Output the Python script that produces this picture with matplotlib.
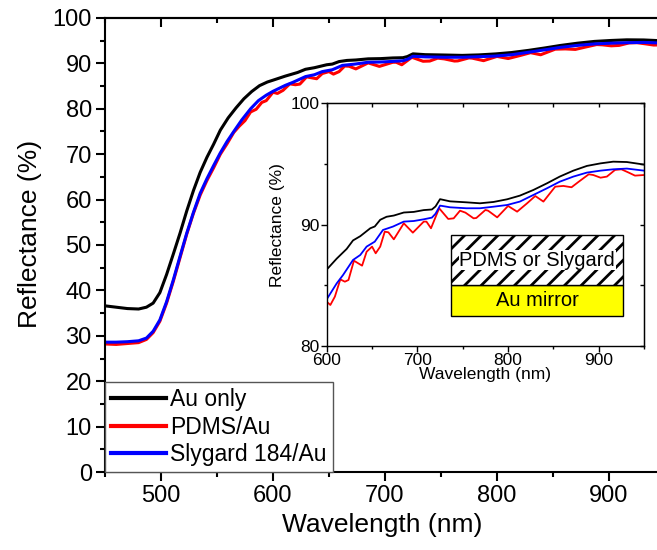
import numpy as np
import matplotlib
matplotlib.use("Agg")
import matplotlib.pyplot as plt
from matplotlib.patches import Rectangle
from matplotlib.ticker import MultipleLocator

plt.rcParams['font.family'] = ['Liberation Sans', 'DejaVu Sans']
plt.rcParams['hatch.linewidth'] = 2.0

# Au only (black)
wl_au = [450, 460, 470, 480, 487, 493, 499, 505, 511, 517, 523, 529, 535, 541, 547,
         553, 560, 567, 574, 581, 588, 595, 600, 611, 622, 629, 637, 648, 653, 659,
         666, 674, 685, 696, 707, 716, 720, 725, 736, 754, 769, 784, 799, 813, 828,
         843, 857, 872, 887, 902, 916, 931, 950]
r_au = [36.6, 36.3, 36.0, 35.9, 36.3, 37.2, 39.5, 43.5, 48.0, 52.6, 57.5, 62.0, 66.0, 69.3, 72.2,
        75.3, 78.0, 80.2, 82.2, 83.8, 85.1, 85.9, 86.3, 87.2, 88.0, 88.7, 89.05, 89.7, 89.85, 90.4,
        90.65, 90.75, 91.0, 91.05, 91.2, 91.25, 91.5, 92.1, 91.92, 91.84, 91.76, 91.87, 92.09, 92.39, 92.86,
        93.41, 93.96, 94.45, 94.84, 95.05, 95.19, 95.16, 94.95]

# Slygard 184/Au (blue)
wl_sly = [450, 460, 470, 480, 487, 493, 499, 505, 511, 517, 523, 529, 535, 541, 547,
          553, 559, 565, 572, 580, 587, 594, 600, 611, 618, 629, 637, 644, 653, 662,
          673, 685, 696, 707, 716, 720, 725, 736, 754, 769, 784, 799, 813, 828, 843,
          857, 872, 887, 902, 916, 931, 950]
r_sly = [28.6, 28.6, 28.7, 28.9, 29.5, 31.0, 33.5, 37.5, 42.3, 47.5, 52.6, 57.2, 61.4, 64.6, 67.5,
         70.3, 72.8, 75.0, 77.5, 80.0, 81.8, 83.0, 83.85, 85.16, 85.85, 87.09, 87.5, 88.19, 88.6, 89.56,
         89.84, 90.25, 90.3, 90.44, 90.58, 90.9, 91.57, 91.43, 91.35, 91.35, 91.48, 91.62, 91.9, 92.45, 93.0,
         93.54, 93.96, 94.29, 94.45, 94.56, 94.62, 94.45]

# PDMS/Au (red)
wl_pdms = [450, 460, 470, 480, 487, 493, 499, 505, 511, 517, 523, 529, 535, 541, 547,
           553, 559, 565, 570, 575, 580, 585, 590, 594, 600, 604, 609, 615, 620, 624,
           630, 639, 644, 650, 654, 659, 664, 668, 674, 685, 695, 707, 710, 715, 724,
           734, 740, 747, 753, 762, 765, 775, 778, 788, 800, 810, 821, 830, 839, 852,
           861, 870, 878, 889, 894, 902, 909, 918, 925, 933, 940, 950]
r_pdms = [28.2, 28.1, 28.3, 28.5, 29.2, 30.7, 33.2, 37.2, 42.0, 47.2, 52.4, 57.0, 61.0, 64.2, 67.0,
          70.0, 72.3, 74.8, 76.2, 77.4, 79.3, 79.9, 81.4, 81.8, 83.65, 83.38, 84.07, 85.49, 85.3, 85.44,
          87.03, 86.62, 87.77, 88.19, 87.64, 88.19, 89.42, 89.37, 88.79, 90.11, 89.34, 90.25, 90.25, 89.7, 91.35,
          90.47, 90.52, 91.15, 90.99, 90.52, 90.55, 91.21, 91.15, 90.6, 91.54, 91.07, 91.76, 92.36, 91.9, 93.13,
          93.19, 93.08, 93.54, 94.15, 94.09, 93.87, 93.96, 94.51, 94.56, 94.29, 94.04, 94.09]

labels = ["Au only", "PDMS/Au", "Slygard 184/Au"]
colors = ["black", "#ff0000", "#0000ff"]

fig = plt.figure(figsize=(6.57, 5.5), dpi=100)
ax = fig.add_axes([0.1598, 0.1418, 0.8438, 0.8255])

ax.plot(wl_au, r_au, color=colors[0], lw=2.2, label=labels[0])
ax.plot(wl_pdms, r_pdms, color=colors[1], lw=2.2, label=labels[1])
ax.plot(wl_sly, r_sly, color=colors[2], lw=2.2, label=labels[2])

ax.set_xlim(450, 945)
ax.set_ylim(0, 100)
ax.xaxis.set_major_locator(MultipleLocator(100))
ax.xaxis.set_minor_locator(MultipleLocator(50))
ax.yaxis.set_major_locator(MultipleLocator(10))
ax.yaxis.set_minor_locator(MultipleLocator(5))
for s in ax.spines.values():
    s.set_linewidth(1.5)
ax.spines['right'].set_visible(False)
ax.tick_params(which='major', direction='out', length=6.5, width=1.5, labelsize=17, pad=3)
ax.tick_params(which='minor', direction='out', length=3.8, width=1.5)
top = ax.secondary_xaxis('top')
top.xaxis.set_major_locator(MultipleLocator(100))
top.xaxis.set_minor_locator(MultipleLocator(50))
top.tick_params(which='major', direction='in', length=6.5, width=1.5, labeltop=False)
top.tick_params(which='minor', direction='in', length=3.8, width=1.5)
top.spines['top'].set_linewidth(1.5)
ax.set_xlabel("Wavelength (nm)", fontsize=19, labelpad=4)
ax.set_ylabel("Reflectance (%)", fontsize=19)
ax.yaxis.set_label_coords(-0.113, 0.525)

leg = ax.legend(loc='lower left', bbox_to_anchor=(0, 0), borderaxespad=0, fontsize=16.5,
                fancybox=False, edgecolor='#555555', framealpha=1, handlelength=2.4,
                handletextpad=0.2, labelspacing=0.2, borderpad=0.25)
leg.get_frame().set_linewidth(1.0)
for h in leg.get_lines():
    h.set_linewidth(3)

# inset
ins = fig.add_axes([0.4973, 0.3709, 0.483, 0.4413])
ins.plot(wl_au, r_au, color=colors[0], lw=1.3)
ins.plot(wl_pdms, r_pdms, color=colors[1], lw=1.3)
ins.plot(wl_sly, r_sly, color=colors[2], lw=1.3)
ins.set_xlim(600, 950)
ins.set_ylim(80, 100)
ins.xaxis.set_major_locator(MultipleLocator(100))
ins.xaxis.set_minor_locator(MultipleLocator(50))
ins.yaxis.set_major_locator(MultipleLocator(10))
ins.yaxis.set_minor_locator(MultipleLocator(5))
for s in ins.spines.values():
    s.set_linewidth(1.0)
ins.tick_params(which='major', direction='out', length=4, width=1.0, labelsize=12.5, pad=1)
ins.tick_params(which='minor', direction='out', length=2.5, width=1.0)
itop = ins.secondary_xaxis('top')
itop.xaxis.set_major_locator(MultipleLocator(100))
itop.xaxis.set_minor_locator(MultipleLocator(50))
itop.tick_params(which='both', direction='in', length=3, width=1.0, labeltop=False)
iright = ins.secondary_yaxis('right')
iright.yaxis.set_major_locator(MultipleLocator(10))
iright.yaxis.set_minor_locator(MultipleLocator(5))
iright.tick_params(which='both', direction='in', length=3, width=1.0, labelright=False)
ins.set_xlabel("Wavelength (nm)", fontsize=12.5, labelpad=-1)
ins.set_ylabel("Reflectance (%)", fontsize=12.5, labelpad=4)

# layer sketch
ins.add_patch(Rectangle((0.392, 0.124), 0.542, 0.127, transform=ins.transAxes,
                        facecolor='#ffff00', edgecolor='black', lw=1.0, zorder=5))
ins.add_patch(Rectangle((0.392, 0.251), 0.542, 0.205, transform=ins.transAxes,
                        facecolor='white', edgecolor='black', hatch='//', lw=1.0, zorder=5))
ins.text(0.663, 0.1875, "Au mirror", transform=ins.transAxes, ha='center', va='center',
         fontsize=14.5, zorder=6)
ins.text(0.663, 0.3535, "PDMS or Slygard", transform=ins.transAxes, ha='center', va='center',
         fontsize=14.5, zorder=6,
         bbox=dict(facecolor='white', edgecolor='none', pad=0.5))

fig.savefig("out.png", dpi=100)
